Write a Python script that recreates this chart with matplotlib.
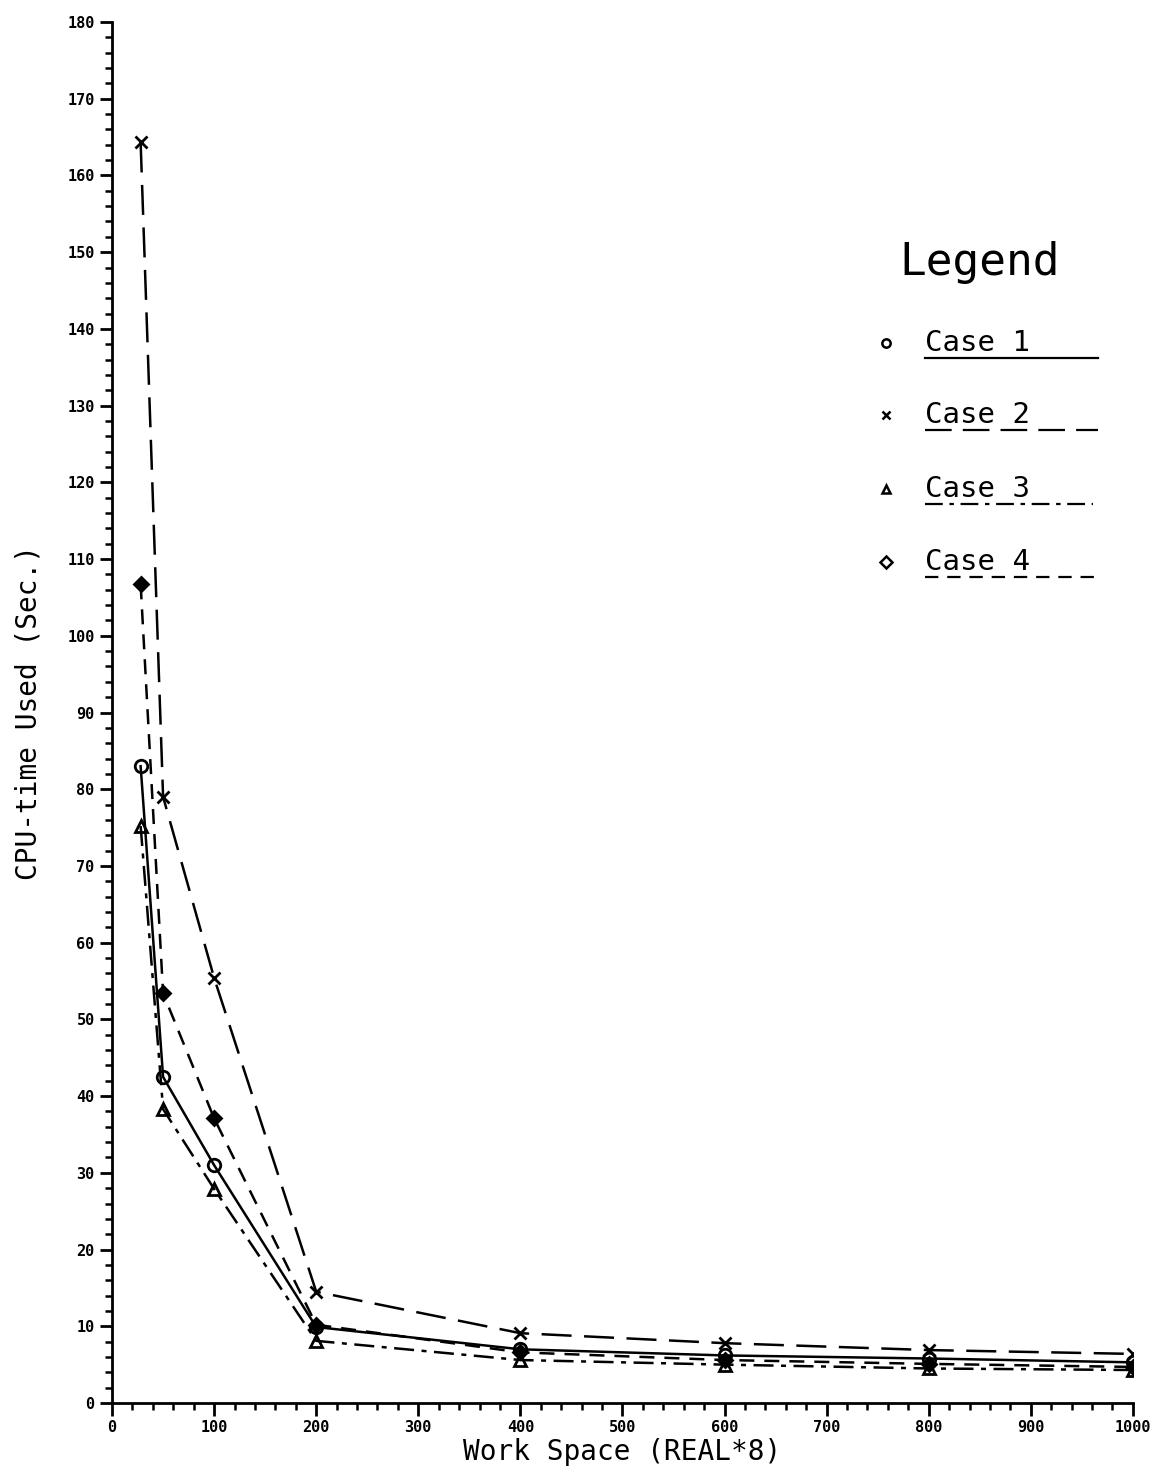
import matplotlib.pyplot as plt
from matplotlib.lines import Line2D

# work space sizes
work_space = [28, 50, 100, 200, 400, 600, 800, 1000]

case1 = [83.0, 42.5, 31.0, 9.9, 7.0, 6.2, 5.8, 5.3]
case2 = [164.3, 79.0, 55.4, 14.5, 9.1, 7.8, 6.9, 6.4]
case3 = [75.2, 38.3, 27.9, 8.1, 5.6, 5.0, 4.5, 4.3]
case4 = [106.7, 53.4, 37.1, 10.2, 6.6, 5.6, 5.1, 4.7]

labels = ["Case 1", "Case 2", "Case 3", "Case 4"]
markers = ["o", "x", "^", "D"]
msizes = [9, 9, 8, 7]
styles = ["-", (0, (12, 5)), (0, (8, 3, 2, 3)), (0, (6, 4))]
fills = ["none", "black", "none", "black"]

mono = "DejaVu Sans Mono"

fig = plt.figure(figsize=(11.6, 14.77), dpi=100)
ax = fig.add_axes([0.0966, 0.0501, 0.880, 0.935])

for ys, mk, ms, ls, fc in zip([case1, case2, case3, case4], markers, msizes, styles, fills):
    ax.plot(work_space, ys, color="black", lw=1.8, linestyle=ls,
            marker=mk, markersize=ms, markerfacecolor=fc,
            markeredgecolor="black", markeredgewidth=2)

ax.set_xlim(0, 1000)
ax.set_ylim(0, 180)
ax.set_xticks(range(0, 1001, 100))
ax.set_xticks(range(0, 1001, 20), minor=True)
ax.set_yticks(range(0, 181, 10))
ax.set_yticks(range(0, 181, 2), minor=True)
ax.spines["top"].set_visible(False)
ax.spines["right"].set_visible(False)
for s in ["left", "bottom"]:
    ax.spines[s].set_linewidth(2)
ax.tick_params(which="major", length=9, width=2, direction="out")
ax.tick_params(which="minor", length=5, width=1.8, direction="out")
for lab in ax.get_xticklabels() + ax.get_yticklabels():
    lab.set_fontfamily(mono)
    lab.set_fontweight("bold")
    lab.set_fontsize(11)

ax.set_xlabel("Work Space (REAL*8)", fontfamily=mono, fontsize=20, labelpad=2)
ax.set_ylabel("CPU-time Used (Sec.)", fontfamily=mono, fontsize=20, labelpad=18)

# legend drawn by hand, plotter style
W, H = 1160, 1477
fig.text(980 / W, 1 - 262 / H, "Legend", fontfamily=mono, fontsize=32,
         ha="center", va="center")
text_y = [343, 415, 489, 562]
line_end = [1098, 1098, 1093, 1098]
for lab, mk, ls, ty, xe in zip(labels, markers, styles, text_y, line_end):
    fig.add_artist(Line2D([886 / W], [1 - ty / H], marker=mk, markersize=6,
                          markerfacecolor="none", markeredgecolor="black",
                          markeredgewidth=1.8, linestyle="none"))
    fig.text(925 / W, 1 - ty / H, lab, fontfamily=mono, fontsize=21,
             ha="left", va="center")
    fig.add_artist(Line2D([925 / W, xe / W], [1 - (ty + 15) / H] * 2,
                          color="black", lw=1.6, linestyle=ls))

fig.savefig("out.png", dpi=100)
